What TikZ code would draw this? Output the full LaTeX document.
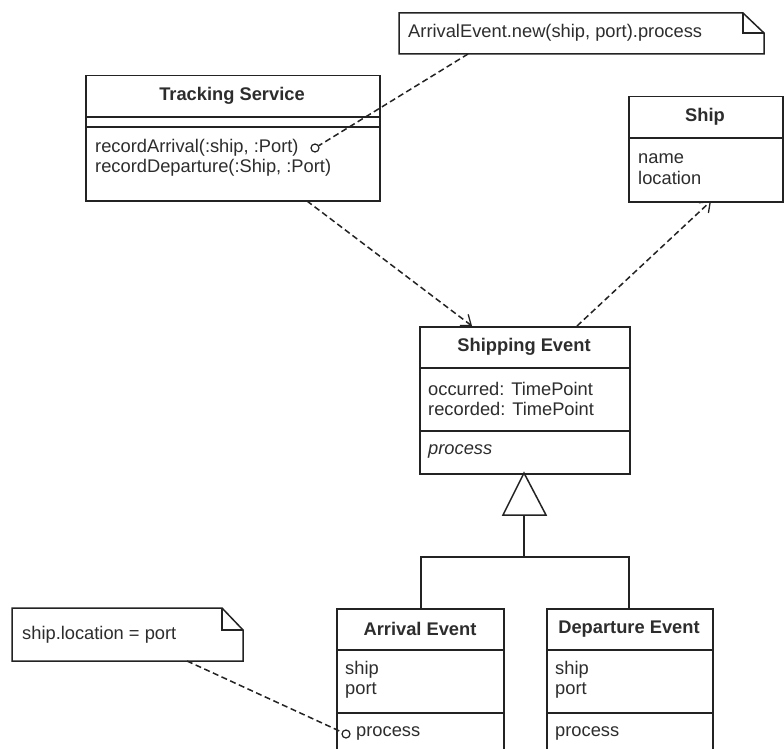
\documentclass[tikz,border=0pt]{standalone}
\usepackage{fontspec}
\setmainfont{Liberation Sans}
\usetikzlibrary{arrows.meta}
\definecolor{ln}{RGB}{35,35,35}
\definecolor{tx}{RGB}{45,45,45}
\tikzset{
  box/.style={draw=ln, line width=1.5pt, rectangle, inner sep=0pt, anchor=north west, fill=white},
  sep/.style={draw=ln, line width=1.5pt},
  ttl/.style={font=\fontsize{18.3}{20.5}\selectfont\bfseries, text=tx, inner sep=0pt},
  txt/.style={font=\fontsize{18.3}{20.5}\selectfont, text=tx, inner sep=0pt, anchor=west, align=left},
  dep/.style={draw=ln, line width=1.5pt, dash pattern=on 6pt off 3.5pt, -{Straight Barb[length=9pt,width=14pt,line width=1.3pt]}},
  anchorline/.style={draw=ln, line width=1.5pt, dash pattern=on 6pt off 3.5pt},
  notebox/.style={draw=ln, line width=1.5pt, fill=white},
  port/.style={circle, draw=ln, line width=1.2pt, minimum size=8pt, inner sep=0pt, fill=white},
  gen/.style={draw=ln, line width=1.5pt}
}
\begin{document}
\begin{tikzpicture}[x=1pt,y=-1pt]
\useasboundingbox (0,0) rectangle (784,749);
\clip (0,0) rectangle (784,749);
\fill[white] (0,0) rectangle (784,749);

% Tracking Service
\node[box, minimum width=294pt, minimum height=125pt] (ts) at (85,75) {};
\draw[sep] (85,117) -- (379,117);
\draw[sep] (85,127) -- (379,127);
\node[ttl] (tst) at (232,96) {Tracking Service};
\node[txt] (tsm) at (95,158) {recordArrival(:ship, :Port)\\recordDeparture(:Ship, :Port)};
\node[port] (tsp) at (315,148) {};

% Ship
\node[box, minimum width=154pt, minimum height=105pt] (ship) at (628,96) {};
\draw[sep] (628,138) -- (782,138);
\node[ttl] (shipt) at (705,117) {Ship};
\node[txt] (shipa) at (638,169) {name\\location};

% Shipping Event
\node[box, minimum width=210pt, minimum height=147pt] (se) at (419,326) {};
\draw[sep] (419,368) -- (629,368);
\draw[sep] (419,431) -- (629,431);
\node[ttl] (set) at (524,347) {Shipping Event};
\node[txt] (sea) at (428,399) {occurred: TimePoint\\recorded: TimePoint};
\node[txt, font=\fontsize{18.3}{20.5}\selectfont\itshape] (seo) at (428,451) {process};

% Arrival Event
\node[box, minimum width=167pt, minimum height=160pt] (ae) at (336,608) {};
\draw[sep] (336,650) -- (503,650);
\draw[sep] (336,713) -- (503,713);
\node[ttl] (aet) at (420,629) {Arrival Event};
\node[txt] (aea) at (345,680) {ship\\port};
\node[txt] (aeo) at (356,733) {process};
\node[port] (aep) at (346,734) {};

% Departure Event
\node[box, minimum width=166pt, minimum height=160pt] (de) at (546,608) {};
\draw[sep] (546,650) -- (712,650);
\draw[sep] (546,713) -- (712,713);
\node[ttl] (det) at (629,629) {Departure Event};
\node[txt] (dea) at (555,680) {ship\\port};
\node[txt] (deo) at (555,733) {process};

% Generalization
\coordinate (tri) at (524,473);
\draw[gen, fill=white] (tri) -- (546,515) -- (503,515) -- cycle;
\coordinate (tribase) at (524,515);
\coordinate (junc) at (524,557);
\draw[gen] (tribase) -- (junc);
\draw[gen] (421,608) |- (629,557) -- (629,608);

% Dependencies
\coordinate (tsout) at (307,201);
\coordinate (sein) at (472,326);
\coordinate (seout) at (577,326);
\coordinate (shipin) at (711,201);
\draw[dep] (tsout) -- (sein);
\draw[dep] (seout) -- (shipin);

% Note 1
\draw[notebox] (399,13) -- (743,13) -- (764,33) -- (764,54) -- (399,54) -- cycle;
\draw[sep] (743,13) -- (743,33) -- (764,33);
\node[txt] (n1) at (408,33) {ArrivalEvent.new(ship, port).process};
\coordinate (n1a) at (468,54);
\draw[anchorline] (n1a) -- (tsp);

% Note 2
\draw[notebox] (12,608) -- (222,608) -- (243,630) -- (243,661) -- (12,661) -- cycle;
\draw[sep] (222,608) -- (222,630) -- (243,630);
\node[txt] (n2) at (22,635) {ship.location = port};
\coordinate (n2a) at (187,661);
\draw[anchorline] (n2a) -- (aep);
\end{tikzpicture}
\end{document}
